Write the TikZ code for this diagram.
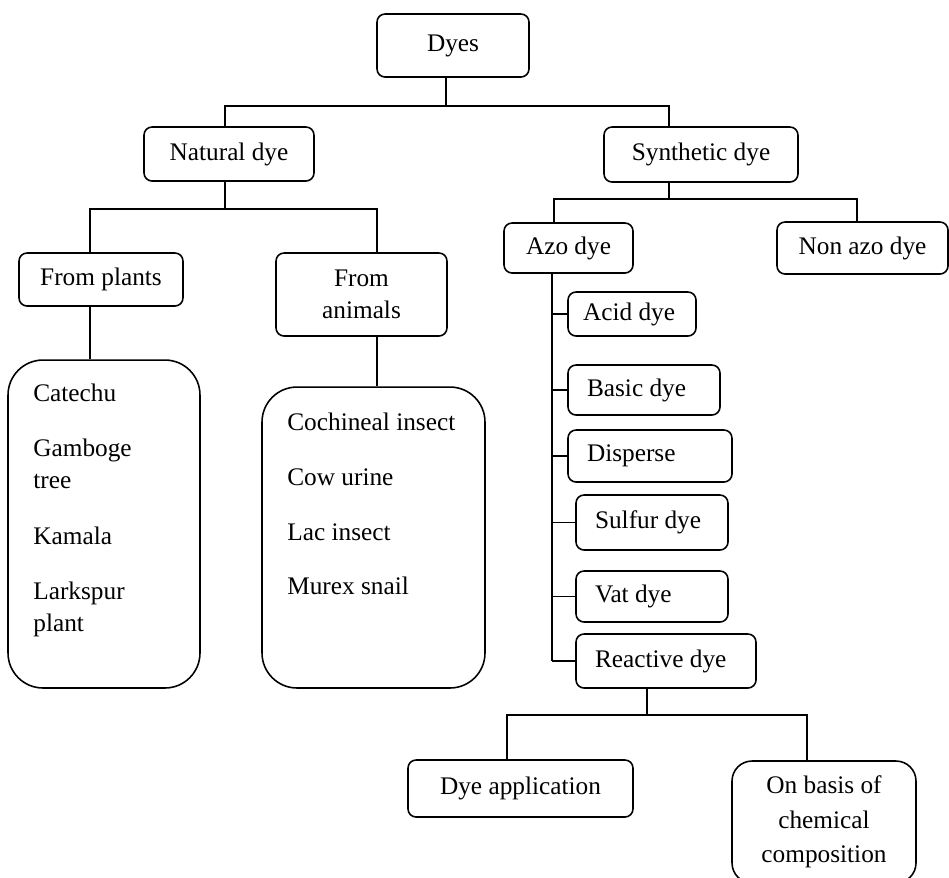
\documentclass[tikz,border=0pt]{standalone}
\usepackage{fontspec}
\setmainfont{Liberation Serif}

\tikzset{
  box/.style={draw, line width=0.9pt, rounded corners=0.16cm, inner sep=0pt, align=center},
  sidebox/.style={box, align=flush left},
  listbox/.style={draw, line width=0.9pt, rounded corners=0.7cm, inner sep=0pt},
  item/.style={anchor=base west, inner sep=0pt, text width=4cm, align=flush left},
  link/.style={line width=0.9pt}
}

\begin{document}
\begin{tikzpicture}[x=0.02cm, y=-0.02cm, font=\fontsize{14.4}{18.5}\selectfont]
  \useasboundingbox (0,0) rectangle (949,877);

  % boxes
  \node[box, minimum width=3.04cm, minimum height=1.26cm] (dyes) at (453,45.5) {Dyes};
  \node[box, minimum width=3.4cm, minimum height=1.08cm] (natural) at (229,154) {Natural dye};
  \node[box, minimum width=3.88cm, minimum height=1.1cm] (synthetic) at (701,154.5) {Synthetic dye};
  \node[box, minimum width=3.28cm, minimum height=1.06cm] (plants) at (101,279.5) {From plants};
  \node[box, minimum width=3.42cm, minimum height=1.66cm] (animals) at (361.5,294.5) {From\\animals};
  \node[listbox, minimum width=3.84cm, minimum height=6.56cm] (plantlist) at (104,524) {};
  \node[listbox, minimum width=4.46cm, minimum height=6.02cm] (animallist) at (373.5,537.5) {};
  \node[box, minimum width=2.58cm, minimum height=1.0cm] (azo) at (568.5,248) {Azo dye};
  \node[box, minimum width=3.42cm, minimum height=1.04cm] (nonazo) at (862.5,248) {Non azo dye};

  % azo dye classes
  \node[sidebox, minimum width=2.56cm, minimum height=0.88cm, text width=1.96cm] (acid) at (632,314) {Acid dye};
  \node[sidebox, minimum width=3.04cm, minimum height=1.0cm, text width=2.28cm] (basic) at (644,390) {Basic~dye};
  \node[sidebox, minimum width=3.28cm, minimum height=1.04cm, text width=2.52cm] (disperse) at (650,456) {Disperse};
  \node[sidebox, minimum width=3.04cm, minimum height=1.1cm, text width=2.28cm] (sulfur) at (652,522.5) {Sulfur~dye};
  \node[sidebox, minimum width=3.04cm, minimum height=1.02cm, text width=2.28cm] (vat) at (652,596.5) {Vat~dye};
  \node[sidebox, minimum width=3.6cm, minimum height=1.08cm, text width=2.84cm] (reactive) at (666,661) {Reactive~dye};

  \node[box, minimum width=4.5cm, minimum height=1.14cm] (dyeapp) at (520.5,788.5) {Dye application};
  \node[box, rounded corners=0.4cm, minimum width=3.68cm, minimum height=2.44cm] (basis) at (824,822) {On basis of\\[1pt]chemical\\[1pt]composition};

  % list entries
  \node[item] (catechu) at (33,401) {Catechu};
  \node[item] (gamboge) at (33,456) {Gamboge\\tree};
  \node[item] (kamala) at (33,544) {Kamala};
  \node[item] (larkspur) at (33,599) {Larkspur\\plant};
  \node[item] (cochineal) at (287,430) {Cochineal insect};
  \node[item] (cowurine) at (287,485) {Cow urine};
  \node[item] (lac) at (287,540) {Lac insect};
  \node[item] (murex) at (287,594) {Murex snail};

  % junctions
  \coordinate (dj) at (446,106);
  \coordinate (nj) at (225,209);
  \coordinate (sj) at (669,199);
  \coordinate (pj) at (90,0);
  \coordinate (aj) at (377,0);
  \coordinate (azj) at (554,0);
  \coordinate (nzj) at (857,0);
  \coordinate (tj) at (552,0);
  \coordinate (rj) at (647,715);
  \coordinate (daj) at (507,0);
  \coordinate (bj) at (807,0);

  % connectors
  \draw[link] (dyes.south -| dj) -- (dj);
  \draw[link] (natural.north -| nj) |- (dj) -| (synthetic.north -| sj);
  \draw[link] (natural.south -| nj) -- (nj);
  \draw[link] (plants.north -| pj) |- (nj) -| (animals.north -| aj);
  \draw[link] (plants.south -| pj) -- (plantlist.north -| pj);
  \draw[link] (animals.south -| aj) -- (animallist.north -| aj);
  \draw[link] (synthetic.south -| sj) -- (sj);
  \draw[link] (azo.north -| azj) |- (sj) -| (nonazo.north -| nzj);
  \draw[link] (azo.south -| tj) -- (reactive.west -| tj);
  \foreach \n in {acid,basic,disperse,sulfur,vat,reactive}
    \draw[link] (\n.west) -- (\n.west -| tj);
  \draw[link] (reactive.south -| rj) -- (rj);
  \draw[link] (dyeapp.north -| daj) |- (rj) -| (basis.north -| bj);
\end{tikzpicture}
\end{document}
